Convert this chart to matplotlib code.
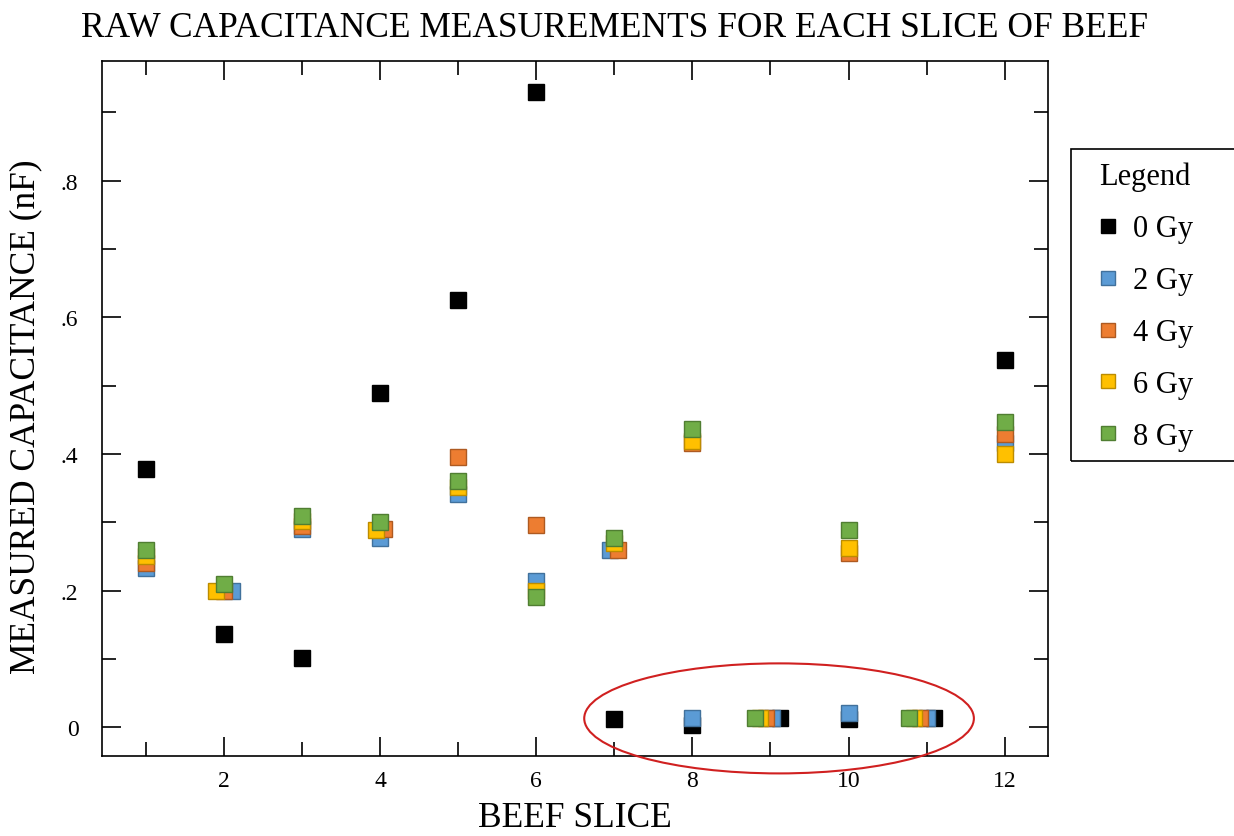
import matplotlib.pyplot as plt
from matplotlib.patches import Ellipse, Rectangle
from matplotlib.ticker import MultipleLocator, FixedLocator

plt.rcParams['font.family'] = ['Liberation Serif', 'DejaVu Serif']

# Raw capacitance per beef slice (nF), x has a small sideways offset where squares overlap
zero_gy_x = [1, 2, 3, 4, 5, 6, 7, 8, 9.12, 10, 11.10, 12]
zero_gy = [0.378, 0.136, 0.102, 0.489, 0.625, 0.929, 0.012, 0.003, 0.013, 0.012, 0.013, 0.537]
two_gy_x = [1, 2.1, 3, 4, 5, 6, 6.94, 8, 9.02, 10, 11.0, 12]
two_gy = [0.233, 0.200, 0.290, 0.277, 0.341, 0.214, 0.260, 0.014, 0.013, 0.021, 0.013, 0.416]
four_gy_x = [1, 2, 3, 4.05, 5, 6, 7.05, 8, 8.94, 10, 10.92, 12]
four_gy = [0.240, 0.200, 0.295, 0.290, 0.396, 0.296, 0.260, 0.416, 0.013, 0.255, 0.013, 0.429]
six_gy_x = [1, 1.9, 3, 3.95, 5, 6, 7, 8, 8.86, 10, 10.84, 12]
six_gy = [0.251, 0.200, 0.302, 0.289, 0.351, 0.200, 0.269, 0.419, 0.013, 0.262, 0.013, 0.400]
eight_gy_x = [1, 2, 3, 4, 5, 6, 7, 8, 8.80, 10, 10.77, 12]
eight_gy = [0.260, 0.210, 0.309, 0.300, 0.360, 0.190, 0.277, 0.436, 0.013, 0.289, 0.013, 0.447]

series = [
    ('0 Gy', zero_gy_x, zero_gy, 'black', 'black'),
    ('2 Gy', two_gy_x, two_gy, '#5B9BD5', '#41719C'),
    ('4 Gy', four_gy_x, four_gy, '#ED7D31', '#AE5A21'),
    ('6 Gy', six_gy_x, six_gy, '#FFC000', '#BC8C00'),
    ('8 Gy', eight_gy_x, eight_gy, '#70AD47', '#507E32'),
]

fig = plt.figure(figsize=(12.34, 8.37), dpi=100)
ax = fig.add_axes([0.0827, 0.0956, 0.7663, 0.8304])

for label, xs, ys, face, edge in series:
    ax.plot(xs, ys, linestyle='none', marker='s', markersize=11.5,
            markerfacecolor=face, markeredgecolor=edge, markeredgewidth=1.0,
            label=label, clip_on=False)

# red ring around the near-zero readings
ax.add_patch(Ellipse((9.11, 0.013), 4.99, 0.161, fill=False, edgecolor='#D02020',
                     linewidth=1.5, clip_on=False, zorder=5))

ax.set_xlim(0.44, 12.55)
ax.set_ylim(-0.042, 0.975)
ax.xaxis.set_major_locator(MultipleLocator(2))
ax.xaxis.set_minor_locator(MultipleLocator(1))
ax.yaxis.set_major_locator(FixedLocator([0, 0.2, 0.4, 0.6, 0.8]))
ax.yaxis.set_minor_locator(MultipleLocator(0.1))
ax.set_yticklabels(['0', '.2', '.4', '.6', '.8'])
ax.tick_params(which='both', direction='in', top=True, right=True, labelsize=17)
ax.tick_params(which='major', length=14, width=1.2)
ax.tick_params(which='minor', length=10, width=1.2)
ax.tick_params(axis='y', pad=17)
ax.tick_params(axis='x', pad=10)
for sp in ax.spines.values():
    sp.set_linewidth(1.2)

ax.set_xlabel('BEEF SLICE', fontsize=25.5, labelpad=7)
ax.set_ylabel('MEASURED CAPACITANCE (nF)', fontsize=25.5)
ax.yaxis.set_label_coords(-0.063, 0.49)
fig.text(0.498, 0.966, 'RAW CAPACITANCE MEASUREMENTS FOR EACH SLICE OF BEEF',
         ha='center', va='center', fontsize=25.5)

# legend box runs off the right edge of the picture
fig.patches.append(Rectangle((0.868, 0.448), 0.15, 0.373, transform=fig.transFigure,
                             fill=False, edgecolor='black', linewidth=1.2))
leg = fig.legend(loc='upper left', bbox_to_anchor=(1096 / 1234, 1 - 163 / 837),
                 title='Legend', fontsize=22, title_fontsize=22, frameon=False,
                 handlelength=0.8, handletextpad=0.4, labelspacing=0.75,
                 borderpad=0.0, borderaxespad=0.0, markerscale=0.85)

fig.savefig('out.png', dpi=100)
